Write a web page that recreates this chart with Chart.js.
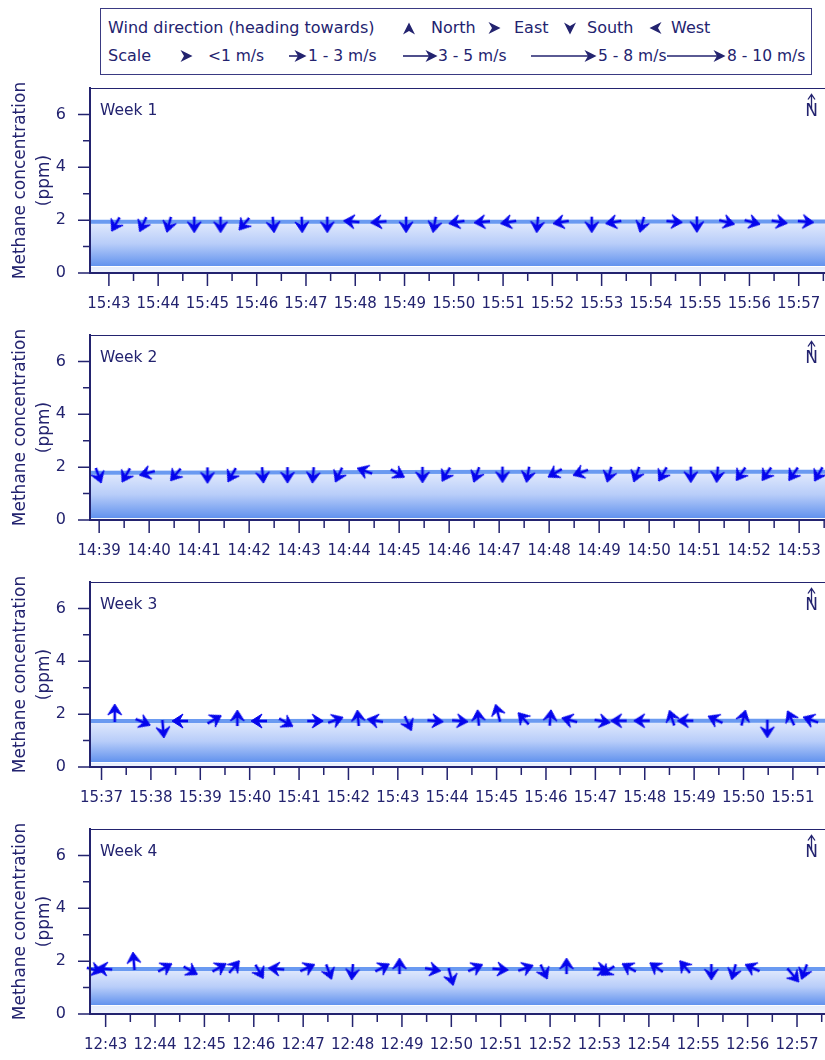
<!DOCTYPE html>
<html><head><meta charset="utf-8">
<script src="https://cdn.jsdelivr.net/npm/chart.js@4.4.1/dist/chart.umd.min.js"></script>
<style>
html,body{margin:0;padding:0;background:#fff;width:825px;height:1060px;overflow:hidden;font-family:'DejaVu Sans',sans-serif;color:#23236f}
.panel{position:absolute;left:0;width:825px;height:247px}
#legend{position:absolute;left:100px;top:8px;width:712px;height:67px;border:1px solid #3a3a82;box-sizing:border-box}
.lt{position:absolute;font-size:16px;line-height:20px;white-space:nowrap}
.lt2{font-size:15.5px}
#legsvg{position:absolute;left:0;top:0}
</style></head><body>
<svg id="legsvg" width="825" height="80"></svg>
<div id="legend"></div>
<div class="panel" style="top:80px"><canvas id="c1" width="825" height="247"></canvas></div>
<div class="panel" style="top:327px"><canvas id="c2" width="825" height="247"></canvas></div>
<div class="panel" style="top:574px"><canvas id="c3" width="825" height="247"></canvas></div>
<div class="panel" style="top:821px"><canvas id="c4" width="825" height="247"></canvas></div>
<script>
// ---------------- DATA ----------------
const WEEK_LABELS = ["Week 1", "Week 2", "Week 3", "Week 4"];
const Y_TICKS = [0, 2, 4, 6];
const Y_TITLE = ["Methane concentration", "(ppm)"];
const SPEED_CLASSES = ["<1 m/s", "1 - 3 m/s", "3 - 5 m/s", "5 - 8 m/s", "8 - 10 m/s"];
const DIRECTIONS = ["North", "East", "South", "West"];

// axis time range (HH:MM:SS) of each panel
const W1_RANGE = ["15:42:37", "15:57:32"];
const W2_RANGE = ["14:38:49", "14:53:31"];
const W3_RANGE = ["15:36:46", "15:51:39"];
const W4_RANGE = ["12:42:41", "12:57:34"];

// methane concentration line (ppm)
const W1_LINE_T = ["15:42:37", "15:45:00", "15:48:00", "15:51:00", "15:54:00", "15:57:32"];
const W1_LINE_PPM = [1.94, 1.94, 1.94, 1.94, 1.95, 1.95];
const W2_LINE_T = ["14:38:49", "14:42:00", "14:45:00", "14:48:00", "14:51:00", "14:53:31"];
const W2_LINE_PPM = [1.79, 1.80, 1.82, 1.83, 1.83, 1.83];
const W3_LINE_T = ["15:36:46", "15:40:00", "15:44:00", "15:48:00", "15:51:39"];
const W3_LINE_PPM = [1.74, 1.74, 1.75, 1.75, 1.75];
const W4_LINE_T = ["12:42:41", "12:46:00", "12:50:00", "12:54:00", "12:57:34"];
const W4_LINE_PPM = [1.70, 1.70, 1.70, 1.70, 1.70];

// lower edge of the shaded band (ppm)
const BAND_BOTTOM = [0.27, 0.09, 0.20, 0.35];

// wind arrows: time, concentration, heading (deg from north), speed class index
const W1_T = ["15:43:10","15:43:43","15:44:14","15:44:44","15:45:16","15:45:47","15:46:20","15:46:55","15:47:26","15:47:59","15:48:32","15:49:02","15:49:37","15:50:07","15:50:38","15:51:10","15:51:42","15:52:14","15:52:48","15:53:18","15:53:50","15:54:25","15:54:56","15:55:29","15:56:00","15:56:33","15:57:05"];
const W1_PPM = [1.94,1.94,1.94,1.94,1.94,1.94,1.94,1.94,1.94,1.94,1.94,1.94,1.94,1.94,1.94,1.94,1.94,1.94,1.94,1.94,1.94,1.95,1.95,1.95,1.95,1.95,1.95];
const W1_DIR = [210,205,195,180,180,220,175,178,180,275,265,180,190,260,265,260,185,260,180,260,195,95,180,105,105,100,95];
const W1_SPD = [0,0,0,0,0,0,0,0,0,0,0,0,0,0,0,0,0,0,0,0,0,0,0,0,0,0,0];

const W2_T = ["14:38:58","14:39:34","14:40:01","14:40:34","14:41:10","14:41:41","14:42:16","14:42:46","14:43:17","14:43:49","14:44:22","14:44:55","14:45:28","14:45:58","14:46:34","14:47:04","14:47:35","14:48:10","14:48:41","14:49:13","14:49:46","14:50:18","14:50:50","14:51:22","14:51:52","14:52:23","14:52:55","14:53:25"];
const W2_PPM = [1.79,1.79,1.80,1.80,1.80,1.80,1.81,1.81,1.81,1.81,1.82,1.82,1.82,1.82,1.82,1.83,1.83,1.83,1.83,1.83,1.83,1.83,1.83,1.83,1.83,1.83,1.83,1.83];
const W2_DIR = [160,210,255,220,180,210,175,180,185,205,290,120,180,210,200,180,190,240,250,195,200,210,180,185,215,215,215,210];
const W2_SPD = [0,0,0,0,0,0,0,0,0,0,0,0,0,0,0,0,0,0,0,0,0,0,0,0,0,0,0,0];

const W3_T = ["15:37:16","15:37:47","15:38:14","15:38:39","15:39:14","15:39:45","15:40:15","15:40:41","15:41:16","15:41:41","15:42:12","15:42:36","15:43:11","15:43:42","15:44:12","15:44:38","15:45:04","15:45:35","15:46:05","15:46:32","15:47:05","15:47:32","15:48:00","15:48:34","15:48:53","15:49:29","15:49:59","15:50:29","15:50:59","15:51:25"];
const W3_PPM = [1.74,1.74,1.74,1.74,1.74,1.74,1.74,1.74,1.74,1.74,1.74,1.74,1.75,1.75,1.75,1.75,1.75,1.75,1.75,1.75,1.75,1.75,1.75,1.75,1.75,1.75,1.75,1.75,1.75,1.75];
const W3_DIR = [0,113,175,270,60,0,270,120,90,70,355,280,155,95,95,355,345,318,5,285,100,270,270,342,270,295,15,180,335,290];
const W3_SPD = [1,0,1,0,0,0,0,0,0,0,0,0,0,0,0,0,1,0,0,0,0,0,0,0,0,0,0,1,0,0];

const W4_T = ["12:42:43","12:43:02","12:43:35","12:44:09","12:44:40","12:45:15","12:45:34","12:46:05","12:46:31","12:47:02","12:47:30","12:48:00","12:48:33","12:48:57","12:49:34","12:49:57","12:50:26","12:50:56","12:51:27","12:51:51","12:52:20","12:52:58","12:53:13","12:53:39","12:54:12","12:54:46","12:55:16","12:55:44","12:56:09","12:56:49","12:57:10"];
const W4_PPM = [1.70,1.70,1.70,1.70,1.70,1.70,1.70,1.70,1.70,1.70,1.70,1.70,1.70,1.70,1.70,1.70,1.70,1.70,1.70,1.70,1.70,1.70,1.70,1.70,1.70,1.70,1.70,1.70,1.70,1.70,1.70];
const W4_DIR = [105,275,355,60,120,60,40,150,275,65,160,185,62,0,100,165,65,95,70,155,0,95,235,300,305,320,180,195,295,140,200];
const W4_SPD = [0,0,1,0,0,0,0,0,0,0,0,0,0,0,0,1,0,0,0,0,0,0,0,0,0,0,0,0,0,1,0];

// ---------------- STYLE ----------------
const NAVY = '#23236f';
const ARROW_BLUE = '#0505ec';
const LINE_BLUE = '#6a9af1';
const FONT = "'DejaVu Sans', sans-serif";

function toMin(t){ const p = t.split(':').map(Number); return p[0]*60 + p[1] + (p[2]||0)/60; }
function fmtMin(v){ const h = Math.floor(v/60); const m = Math.round(v - h*60); return h + ':' + String(m).padStart(2,'0'); }

// ---------------- LEGEND ----------------
(function buildLegend(){
  const lg = document.getElementById('legend');
  const texts = [
    ["Wind direction (heading towards)", 108, 28, ''],
    [DIRECTIONS[0], 431, 28, ''], [DIRECTIONS[1], 514, 28, ''], [DIRECTIONS[2], 587, 28, ''], [DIRECTIONS[3], 671, 28, ''],
    ["Scale", 108, 56, ''],
    [SPEED_CLASSES[0], 208, 56, 'lt2'], [SPEED_CLASSES[1], 308, 56, 'lt2'], [SPEED_CLASSES[2], 438, 56, 'lt2'],
    [SPEED_CLASSES[3], 598, 56, 'lt2'], [SPEED_CLASSES[4], 727, 56, 'lt2']
  ];
  texts.forEach(([t,x,cy,cl]) => {
    const s = document.createElement('span'); s.className = 'lt ' + cl; s.textContent = t;
    s.style.left = (x - 101) + 'px'; s.style.top = (cy - 10 - 9) + 'px';
    lg.appendChild(s);
  });
  function chev(cx, cy, deg){
    const r = deg*Math.PI/180, c = Math.cos(r), s = Math.sin(r);
    const pts = [[0,-6.5],[6,5.5],[0,2],[-6,5.5]].map(([x,y]) => (cx + x*c - y*s).toFixed(2)+','+(cy + x*s + y*c).toFixed(2));
    return '<polygon points="'+pts.join(' ')+'" fill="'+NAVY+'"/>';
  }
  let svg = '';
  svg += chev(409, 29, 0) + chev(494, 28, 90) + chev(570, 28, 180) + chev(656, 28, 270);
  svg += chev(186, 56, 90);
  [[289,306],[403,437],[531,596],[667,725]].forEach(([x1,x2]) => {
    svg += '<line x1="'+x1+'" y1="56" x2="'+(x2-6)+'" y2="56" stroke="'+NAVY+'" stroke-width="1.6"/>';
    svg += chev(x2-6, 56, 90);
  });
  document.getElementById('legsvg').innerHTML = svg;
})();

// ---------------- ARROW GLYPHS ----------------
function makeGlyph(cls){
  const c = document.createElement('canvas'); c.width = 48; c.height = 48;
  const g = c.getContext('2d'); g.translate(24,24);
  g.fillStyle = ARROW_BLUE; g.strokeStyle = ARROW_BLUE; g.lineWidth = 2.6; g.lineCap = 'butt';
  const tail = cls === 0 ? 5 : 1;
  const tip = cls === 0 ? -11 : -17;
  const hl = 11, hw = 7, notch = 4;
  g.beginPath(); g.moveTo(0, tail); g.lineTo(0, tip + hl - notch); g.stroke();
  g.beginPath(); g.moveTo(0, tip); g.lineTo(hw, tip + hl); g.lineTo(0, tip + hl - notch); g.lineTo(-hw, tip + hl); g.closePath(); g.fill();
  g.lineWidth = 1; g.lineJoin = 'round'; g.stroke();
  return c;
}
const GLYPHS = [makeGlyph(0), makeGlyph(1)];

// ---------------- PLUGIN ----------------
const panelDecor = {
  id: 'panelDecor',
  afterDraw(chart, args, opts){
    const {ctx, chartArea: a, scales: {x, y}} = chart;
    ctx.save();
    ctx.strokeStyle = NAVY; ctx.lineWidth = 1.5;
    ctx.beginPath();
    y.ticks.forEach(t => {
      if (t.value >= y.max) return;
      const py = y.getPixelForValue(t.value);
      const len = (t.value % 2 === 0) ? 12 : 7;
      ctx.moveTo(a.left - len, py); ctx.lineTo(a.left, py);
    });
    x.ticks.forEach(t => {
      const px = x.getPixelForValue(t.value);
      const len = Number.isInteger(Math.round(t.value * 1000) / 1000) ? 13 : 8;
      ctx.moveTo(px, a.bottom); ctx.lineTo(px, a.bottom + len);
    });
    ctx.stroke();
    ctx.lineWidth = 1.2;
    ctx.beginPath(); ctx.moveTo(a.left, a.top + 0.5); ctx.lineTo(a.right, a.top + 0.5); ctx.stroke();
    // week label
    ctx.fillStyle = NAVY; ctx.textBaseline = 'middle'; ctx.textAlign = 'left';
    ctx.font = "15.5px " + FONT;
    ctx.fillText(opts.label, a.left + 10, a.top + 23);
    // north marker
    const nx = a.right - 13.5;
    ctx.font = "17px " + FONT; ctx.textAlign = 'center';
    ctx.fillText('N', nx, a.top + 24);
    ctx.lineWidth = 1.3;
    ctx.beginPath(); ctx.moveTo(nx, a.top + 22); ctx.lineTo(nx, a.top + 7);
    ctx.moveTo(nx - 3.5, a.top + 11.5); ctx.lineTo(nx, a.top + 6.5); ctx.lineTo(nx + 3.5, a.top + 11.5);
    ctx.stroke();
    ctx.restore();
  }
};

// ---------------- CHARTS ----------------
const WEEKS = [
  {range: W1_RANGE, lt: W1_LINE_T, lp: W1_LINE_PPM, t: W1_T, p: W1_PPM, d: W1_DIR, s: W1_SPD},
  {range: W2_RANGE, lt: W2_LINE_T, lp: W2_LINE_PPM, t: W2_T, p: W2_PPM, d: W2_DIR, s: W2_SPD},
  {range: W3_RANGE, lt: W3_LINE_T, lp: W3_LINE_PPM, t: W3_T, p: W3_PPM, d: W3_DIR, s: W3_SPD},
  {range: W4_RANGE, lt: W4_LINE_T, lp: W4_LINE_PPM, t: W4_T, p: W4_PPM, d: W4_DIR, s: W4_SPD}
];

function bandFill(lineVals, floor){
  return (c) => {
    const chart = c.chart;
    if (!chart.chartArea) return '#a9c1f6';
    const ys = chart.scales.y;
    const top = ys.getPixelForValue(Math.max(...lineVals));
    const y0 = ys.getPixelForValue(0);
    const yf = ys.getPixelForValue(floor);
    const span = y0 - top;
    const f = (yf - top) / span;
    const g = chart.ctx.createLinearGradient(0, top, 0, y0);
    g.addColorStop(0, '#e2eafd');
    g.addColorStop(f * 0.5, '#b8cdf9');
    g.addColorStop(f, '#6393ee');
    g.addColorStop(Math.min(1, f + 0.6 / span), '#ffffff');
    g.addColorStop(Math.min(1, f + 1.6 / span), '#e6edfc');
    g.addColorStop(1, '#f0f4fd');
    return g;
  };
}

function noPad(s){ s.paddingTop = 0; s.paddingBottom = 0; s.paddingLeft = 0; s.paddingRight = 0; }

WEEKS.forEach((w, i) => {
  const el = document.getElementById('c' + (i + 1));
  new Chart(el, {
    type: 'line',
    data: {
      datasets: [
        {
          label: 'Wind',
          data: w.t.map((t, k) => ({x: toMin(t), y: w.p[k]})),
          showLine: false,
          pointStyle: (c) => GLYPHS[w.s[c.dataIndex]] || GLYPHS[0],
          pointRotation: (c) => w.d[c.dataIndex],
          pointRadius: 5,
          clip: false,
          order: 0
        },
        {
          label: 'Methane',
          data: w.lt.map((t, k) => ({x: toMin(t), y: w.lp[k]})),
          borderColor: LINE_BLUE,
          borderWidth: 4,
          pointRadius: 0,
          tension: 0,
          fill: 'origin',
          backgroundColor: bandFill(w.lp, BAND_BOTTOM[i]),
          order: 1
        }
      ]
    },
    options: {
      responsive: false,
      animation: false,
      events: [],
      layout: {padding: {top: 8, right: 0, bottom: 0, left: 0}, autoPadding: false},
      plugins: {legend: {display: false}, tooltip: {enabled: false}, panelDecor: {label: WEEK_LABELS[i]}},
      scales: {
        x: {
          type: 'linear',
          min: toMin(w.range[0]), max: toMin(w.range[1]),
          bounds: 'ticks',
          ticks: {
            stepSize: 0.5, includeBounds: false, autoSkip: false, maxRotation: 0, minRotation: 0,
            padding: 22, color: NAVY, font: {family: FONT, size: 15},
            callback: (v) => Number.isInteger(Math.round(v * 1000) / 1000) ? fmtMin(v) : ''
          },
          grid: {display: false, drawTicks: false},
          border: {display: true, color: NAVY, width: 2, z: 1},
          afterFit: (s) => { s.height = 54; noPad(s); }
        },
        y: {
          type: 'linear', min: 0, max: 7,
          ticks: {
            stepSize: 1, padding: 24, color: NAVY, font: {family: FONT, size: 16},
            callback: (v) => Y_TICKS.includes(v) ? String(v) : ''
          },
          grid: {display: false, drawTicks: false},
          border: {display: true, color: NAVY, width: 2, z: 1},
          title: {display: true, text: Y_TITLE, color: NAVY, font: {family: FONT, size: 17, lineHeight: 1.45}, padding: {top: 8, bottom: 0}},
          afterFit: (s) => { s.width = 90; noPad(s); }
        }
      }
    },
    plugins: [panelDecor]
  });
});
</script>
</body></html>
